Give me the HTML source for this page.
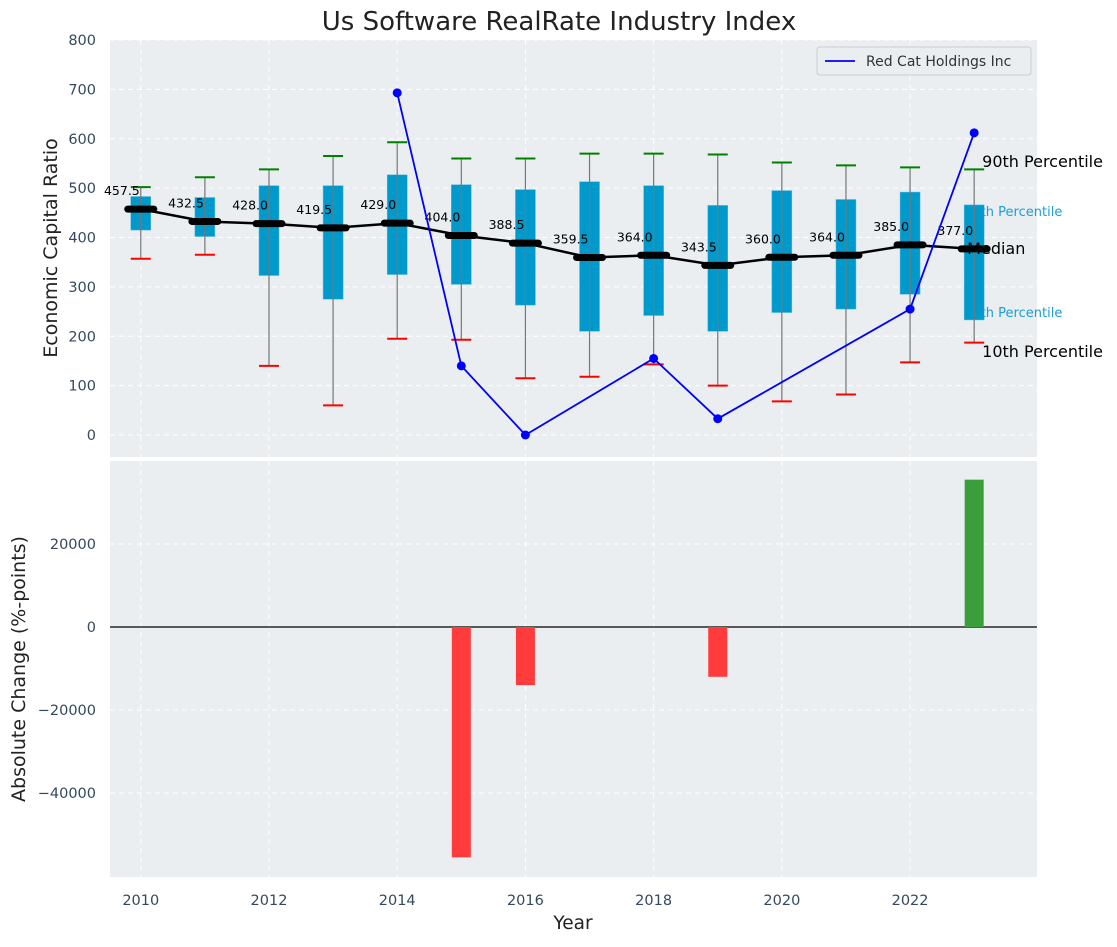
<!DOCTYPE html>
<html><head><meta charset="utf-8"><style>
body{margin:0;background:#fff}
svg{font-family:"DejaVu Sans","Liberation Sans",sans-serif}
</style></head><body>
<svg id="c" width="1117" height="942" viewBox="0 0 1117 942" xmlns="http://www.w3.org/2000/svg"></svg>
<script>
const years=[2010,2011,2012,2013,2014,2015,2016,2017,2018,2019,2020,2021,2022,2023];
const p10=[357,365,140,60,195,193,115,118,143,100,68,82,147,187];
const q1=[415,402,323,275,325,305,263,210,242,210,248,255,285,233];
const med=[457.5,432.5,428.0,419.5,429.0,404.0,388.5,359.5,364.0,343.5,360.0,364.0,385.0,377.0];
const q3=[483,481,505,505,527,507,497,513,505,465,495,477,492,466];
const p90=[502,522,538,565,593,560,560,570,570,568,552,546,542,538];
const rcYears=[2014,2015,2016,2018,2019,2022,2023];
const rcVals=[693,140,0,155,33,255,612];
const chgYears=[2015,2016,2019,2023];
const chgVals=[-55500,-14000,-12000,35500];
const topTicks=[0,100,200,300,400,500,600,700,800];
const botTicks=[-40000,-20000,0,20000];
const xTicks=[2010,2012,2014,2016,2018,2020,2022];

const L=110,R=1037,T1=40,B1=457,T2=461,B2=877;
const X=v=>L+(v-2009.52)/(2023.98-2009.52)*(R-L);
const Y1=v=>435-(v)*0.49375;
const Y2=v=>627-v*83/20000;
const svg=document.getElementById('c');
const NS='http://www.w3.org/2000/svg';
function mk(tag,attrs,parent,text){const e=document.createElementNS(NS,tag);for(const k in attrs)e.setAttribute(k,attrs[k]);if(text!==undefined)e.textContent=text;(parent||svg).appendChild(e);return e;}

let e=mk('rect',{x:L,y:T1,width:R-L,height:B1-T1,fill:'#eaeef0'});


e=mk('rect',{x:L,y:T2,width:R-L,height:B2-T2,fill:'#eaeef0'});



for(const t of topTicks){mk('line',{x1:L,x2:R,y1:Y1(t),y2:Y1(t),stroke:'#fff','stroke-dasharray':'5,4','stroke-width':1});
 e=mk('text',{x:L-14,y:Y1(t)+5,'text-anchor':'end','font-size':14.5,fill:'#34495e'},null,t);
 
 }
for(const t of botTicks){mk('line',{x1:L,x2:R,y1:Y2(t),y2:Y2(t),stroke:'#fff','stroke-dasharray':'5,4','stroke-width':1});
 e=mk('text',{x:L-14,y:Y2(t)+5,'text-anchor':'end','font-size':14.5,fill:'#34495e'},null,t<0?'\u2212'+(-t):t);
 
 }
for(const t of xTicks){
 mk('line',{x1:X(t),x2:X(t),y1:T1,y2:B1,stroke:'#fff','stroke-dasharray':'5,4'});
 mk('line',{x1:X(t),x2:X(t),y1:T2,y2:B2,stroke:'#fff','stroke-dasharray':'5,4'});
 e=mk('text',{x:X(t),y:905,'text-anchor':'middle','font-size':14.5,fill:'#34495e'},null,t);
 
 }

const xl=X(2023);
e=mk('text',{x:xl+8,y:167,'font-size':16,fill:'#000'},null,'90th Percentile');


e=mk('text',{x:xl-10,y:216,'font-size':13,fill:'#1a9fd0'},null,'75th Percentile');


e=mk('text',{x:xl-10,y:317,'font-size':13,fill:'#1a9fd0'},null,'25th Percentile');


e=mk('text',{x:xl+8,y:357,'font-size':16,fill:'#000'},null,'10th Percentile');



years.forEach((y,i)=>{
 const cx=X(y);
 e=mk('rect',{x:cx-10,y:Y1(q3[i]),width:20,height:Y1(q1[i])-Y1(q3[i]),fill:'#0099cc',stroke:'#5bbbe0','stroke-width':0.5});
 
 
 mk('line',{x1:cx,x2:cx,y1:Y1(p10[i]),y2:Y1(p90[i]),stroke:'#777','stroke-width':1.2});
 e=mk('line',{x1:cx-10,x2:cx+10,y1:Y1(p90[i]),y2:Y1(p90[i]),stroke:'green','stroke-width':2});
 
 
 e=mk('line',{x1:cx-10,x2:cx+10,y1:Y1(p10[i]),y2:Y1(p10[i]),stroke:'red','stroke-width':2});
 
 
});
e=mk('polyline',{points:years.map((y,i)=>X(y)+','+Y1(med[i])).join(' '),fill:'none',stroke:'#000','stroke-width':2.5});


years.forEach((y,i)=>{
 const cx=X(y);
 e=mk('line',{x1:cx-13,x2:cx+13,y1:Y1(med[i]),y2:Y1(med[i]),stroke:'#000','stroke-width':7,'stroke-linecap':'round'});
 
 
 e=mk('text',{x:cx-1,y:Y1(med[i])-14,'text-anchor':'end','font-size':12.5,fill:'#000'},null,med[i].toFixed(1));
 
 
});
e=mk('text',{x:xl-7,y:254,'font-size':16,fill:'#000'},null,'Median');



e=mk('polyline',{points:rcYears.map((y,i)=>X(y)+','+Y1(rcVals[i])).join(' '),fill:'none',stroke:'#0000ff','stroke-width':1.8});


rcYears.forEach((y,i)=>{
 e=mk('circle',{cx:X(y),cy:Y1(rcVals[i]),r:4.5,fill:'#0000ff'});
 
 
});

const lg=mk('g',{});


mk('rect',{x:817,y:47,width:214,height:28,rx:3,fill:'#eaeef0',stroke:'#ccc'},lg);
mk('line',{x1:825,x2:855,y1:61,y2:61,stroke:'#0000ff','stroke-width':1.8},lg);
e=mk('text',{x:866,y:66,'font-size':14,fill:'#333'},lg,'Red Cat Holdings Inc');



mk('line',{x1:L,x2:R,y1:Y2(0),y2:Y2(0),stroke:'#000','stroke-width':1.2});
chgYears.forEach((y,i)=>{
 const v=chgVals[i];
 e=mk('rect',{x:X(y)-9.5,y:Math.min(Y2(v),Y2(0)),width:19,height:Math.abs(Y2(v)-Y2(0)),fill:v<0?'#ff3b3b':'#3a9e3a'});
 
 
});

e=mk('text',{x:559,y:30,'text-anchor':'middle','font-size':26,fill:'#222'},null,'Us Software RealRate Industry Index');


e=mk('text',{x:573,y:929,'text-anchor':'middle','font-size':18.5,fill:'#222'},null,'Year');


e=mk('text',{x:57,y:248,'text-anchor':'middle','font-size':19,fill:'#222',transform:'rotate(-90 57 248)'},null,'Economic Capital Ratio');


e=mk('text',{x:25,y:669,'text-anchor':'middle','font-size':19,fill:'#222',transform:'rotate(-90 25 669)'},null,'Absolute Change (%-points)');


</script>
</body></html>
